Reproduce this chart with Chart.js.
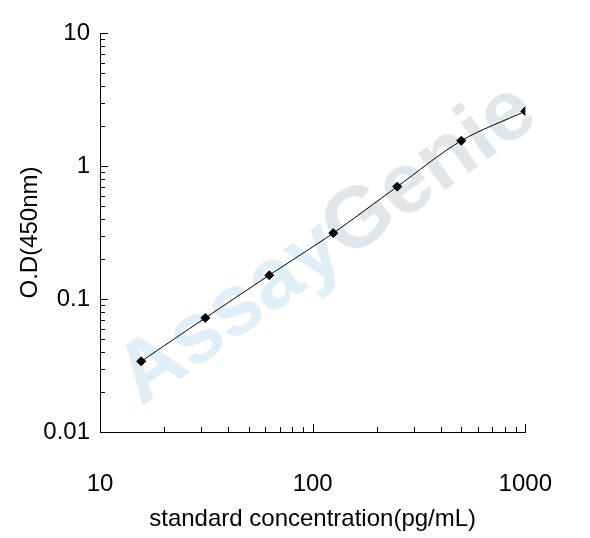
<!DOCTYPE html>
<html><head><script src="https://cdn.jsdelivr.net/npm/chart.js"></script>
<style>html,body{margin:0;background:#fff}</style></head>
<body><div style="width:590px;height:538px"><canvas id="c"></canvas></div>
<script>
const concentrations=[15.625,31.25,62.5,125,250,500,1000];
const odValues=[0.034,0.072,0.151,0.313,0.70,1.55,2.58];
const xTickLabels=[10,100,1000];
const yTickLabels=[0.01,0.1,1,10];
const font={family:'Liberation Sans, Arial',size:24};
const inwardTicks={id:'inward',afterDraw(ch){
  const c=ch.ctx,x=ch.scales.x,y=ch.scales.y;c.save();c.strokeStyle='#000';c.lineWidth=1;
  for(let d=10;d<1000;d*=10)for(let k=1;k<=10;k++){const v=d*k;const px=Math.round(x.getPixelForValue(v))+0.5;
    c.beginPath();c.moveTo(px,y.bottom);c.lineTo(px,y.bottom-(k==1||k==10?8:5));c.stroke();}
  for(let d=0.01;d<9;d*=10)for(let k=1;k<=10;k++){const v=d*k;const py=Math.round(y.getPixelForValue(v))+0.5;
    c.beginPath();c.moveTo(x.left,py);c.lineTo(x.left+(k==1||k==10?8:5),py);c.stroke();}
  c.restore();}};
const watermark={id:'wm',beforeDatasetsDraw(ch){const c=ch.ctx;c.save();c.translate(320,250);c.rotate(-0.62);
  c.font='bold 86px Liberation Sans, Arial';c.textAlign='center';c.textBaseline='middle';
  c.fillStyle='rgba(150,200,230,0.3)';c.fillText('Assay',-110,0);c.fillStyle='rgba(120,140,160,0.22)';c.fillText('Genie',135,0);c.restore();}};
new Chart(document.getElementById('c'),{type:'line',
 data:{datasets:[{data:concentrations.map((v,i)=>({x:v,y:odValues[i]})),borderColor:'#000',borderWidth:1,
   pointStyle:'rectRot',pointRadius:4.5,pointBackgroundColor:'#000',pointBorderColor:'#000',tension:0.3}]},
 plugins:[watermark,inwardTicks],
 options:{responsive:true,maintainAspectRatio:false,animation:false,
  layout:{padding:{top:33,right:50,left:12,bottom:0}},
  plugins:{legend:{display:false},tooltip:{enabled:false}},
  scales:{
   x:{type:'logarithmic',min:10,max:1000,afterFit:s=>{s.height=106},
     afterBuildTicks:s=>{s.ticks=xTickLabels.map(v=>({value:v}))},
     grid:{display:false,drawTicks:false},border:{display:true,color:'#000'},
     ticks:{color:'#000',font,padding:38,callback:v=>String(v),maxRotation:0},
     title:{display:true,text:'standard concentration(pg/mL)',color:'#000',font,padding:{top:0}}},
   y:{type:'logarithmic',min:0.01,max:10,afterFit:s=>{s.width=88},
     afterBuildTicks:s=>{s.ticks=yTickLabels.map(v=>({value:v}))},
     grid:{display:false,drawTicks:false},border:{display:true,color:'#000'},
     ticks:{color:'#000',font,padding:10,callback:v=>String(v)},
     title:{display:true,text:'O.D(450nm)',color:'#000',font,padding:{bottom:0}}}}}});
</script></body></html>
